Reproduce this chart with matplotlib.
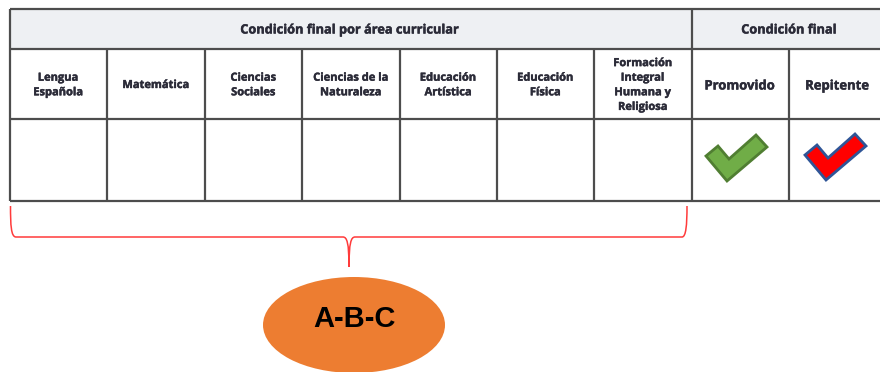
#!/usr/bin/env python3

import matplotlib
matplotlib.use("Agg")
import matplotlib.pyplot as plt
import matplotlib.patheffects as pe
from matplotlib.patches import Ellipse, PathPatch, Polygon, Rectangle
from matplotlib.path import Path

header_main = "Condición final por área curricular"
header_final = "Condición final"
areas = ["Lengua\nEspañola", "Matemática", "Ciencias\nSociales", "Ciencias de la\nNaturaleza",
         "Educación\nArtística", "Educación\nFísica", "Formación\nIntegral\nHumana y\nReligiosa"]
finals = ["Promovido", "Repitente"]
bubble_label = "A-B-C"

col_x = [9.5, 107, 204.5, 302, 399.5, 496.5, 594, 691.5, 788.5, 884]
row_y = [8.5, 48.5, 118.5, 201]
check = [(0, 10), (12, 0), (23, 13), (50, -11), (61, 1), (21, 35)]

fig = plt.figure(figsize=(8.8, 3.72), dpi=100)
ax = fig.add_axes([0, 0, 1, 1])
ax.set_xlim(0, 880)
ax.set_ylim(372, 0)
ax.axis("off")

line = "#4d4d4d"
ax.add_patch(Rectangle((col_x[0], row_y[0]), col_x[-1] - col_x[0], row_y[1] - row_y[0], fc="#eef0f3", ec="none"))
for y in row_y:
    ax.plot([col_x[0], 880], [y, y], color=line, lw=1.6, solid_capstyle="butt")
for i, x in enumerate(col_x[:-1]):
    top = row_y[0] if i in (0, 7) else row_y[1]
    ax.plot([x, x], [top, row_y[-1]], color=line, lw=1.6, solid_capstyle="butt")

# a thin stroke makes the labels as heavy as in the scanned table
heavy = [pe.withStroke(linewidth=0.3, foreground="#2b2b38")]
font = dict(family="Open Sans", weight="bold", color="#2b2b38", ha="center", va="center", path_effects=heavy)
ax.text(350, 30, header_main, fontsize=9.2, **font)
ax.text(789, 30, header_final, fontsize=9.2, **font)
for i, name in enumerate(areas):
    ax.text((col_x[i] + col_x[i + 1]) / 2, 85.5, name, fontsize=8, linespacing=1.45, **font)
ax.text(739.5, 86, finals[0], fontsize=9.4, **font)
ax.text(837, 86, finals[1], fontsize=9.4, **font)

ax.add_patch(Polygon([(706 + a, 146 + b) for a, b in check], fc="#70ad47", ec="#507e32", lw=2, joinstyle="miter"))
ax.add_patch(Polygon([(805 + a, 145 + b) for a, b in check], fc="#ff0000", ec="#2f5597", lw=2, joinstyle="miter"))

verts = [(10.5, 206), (10.5, 225), (11, 237), (16, 237), (343, 237), (347, 237), (349, 243), (349, 267),
         (349, 243), (351, 237), (355, 237), (682, 237), (686, 237), (687, 225), (687, 206)]
codes = [Path.MOVETO, Path.CURVE4, Path.CURVE4, Path.CURVE4, Path.LINETO, Path.CURVE4, Path.CURVE4, Path.CURVE4,
         Path.CURVE4, Path.CURVE4, Path.CURVE4, Path.LINETO, Path.CURVE4, Path.CURVE4, Path.CURVE4]
ax.add_patch(PathPatch(Path(verts, codes), fc="none", ec="#ff3b3b", lw=1.1))

ax.add_patch(Ellipse((354, 325), 182, 96, fc="#ed7d31", ec="none"))
ax.text(354, 319, bubble_label, family="Liberation Sans", weight="bold", fontsize=21, color="black", ha="center", va="center")

fig.savefig("out.png", dpi=100)
